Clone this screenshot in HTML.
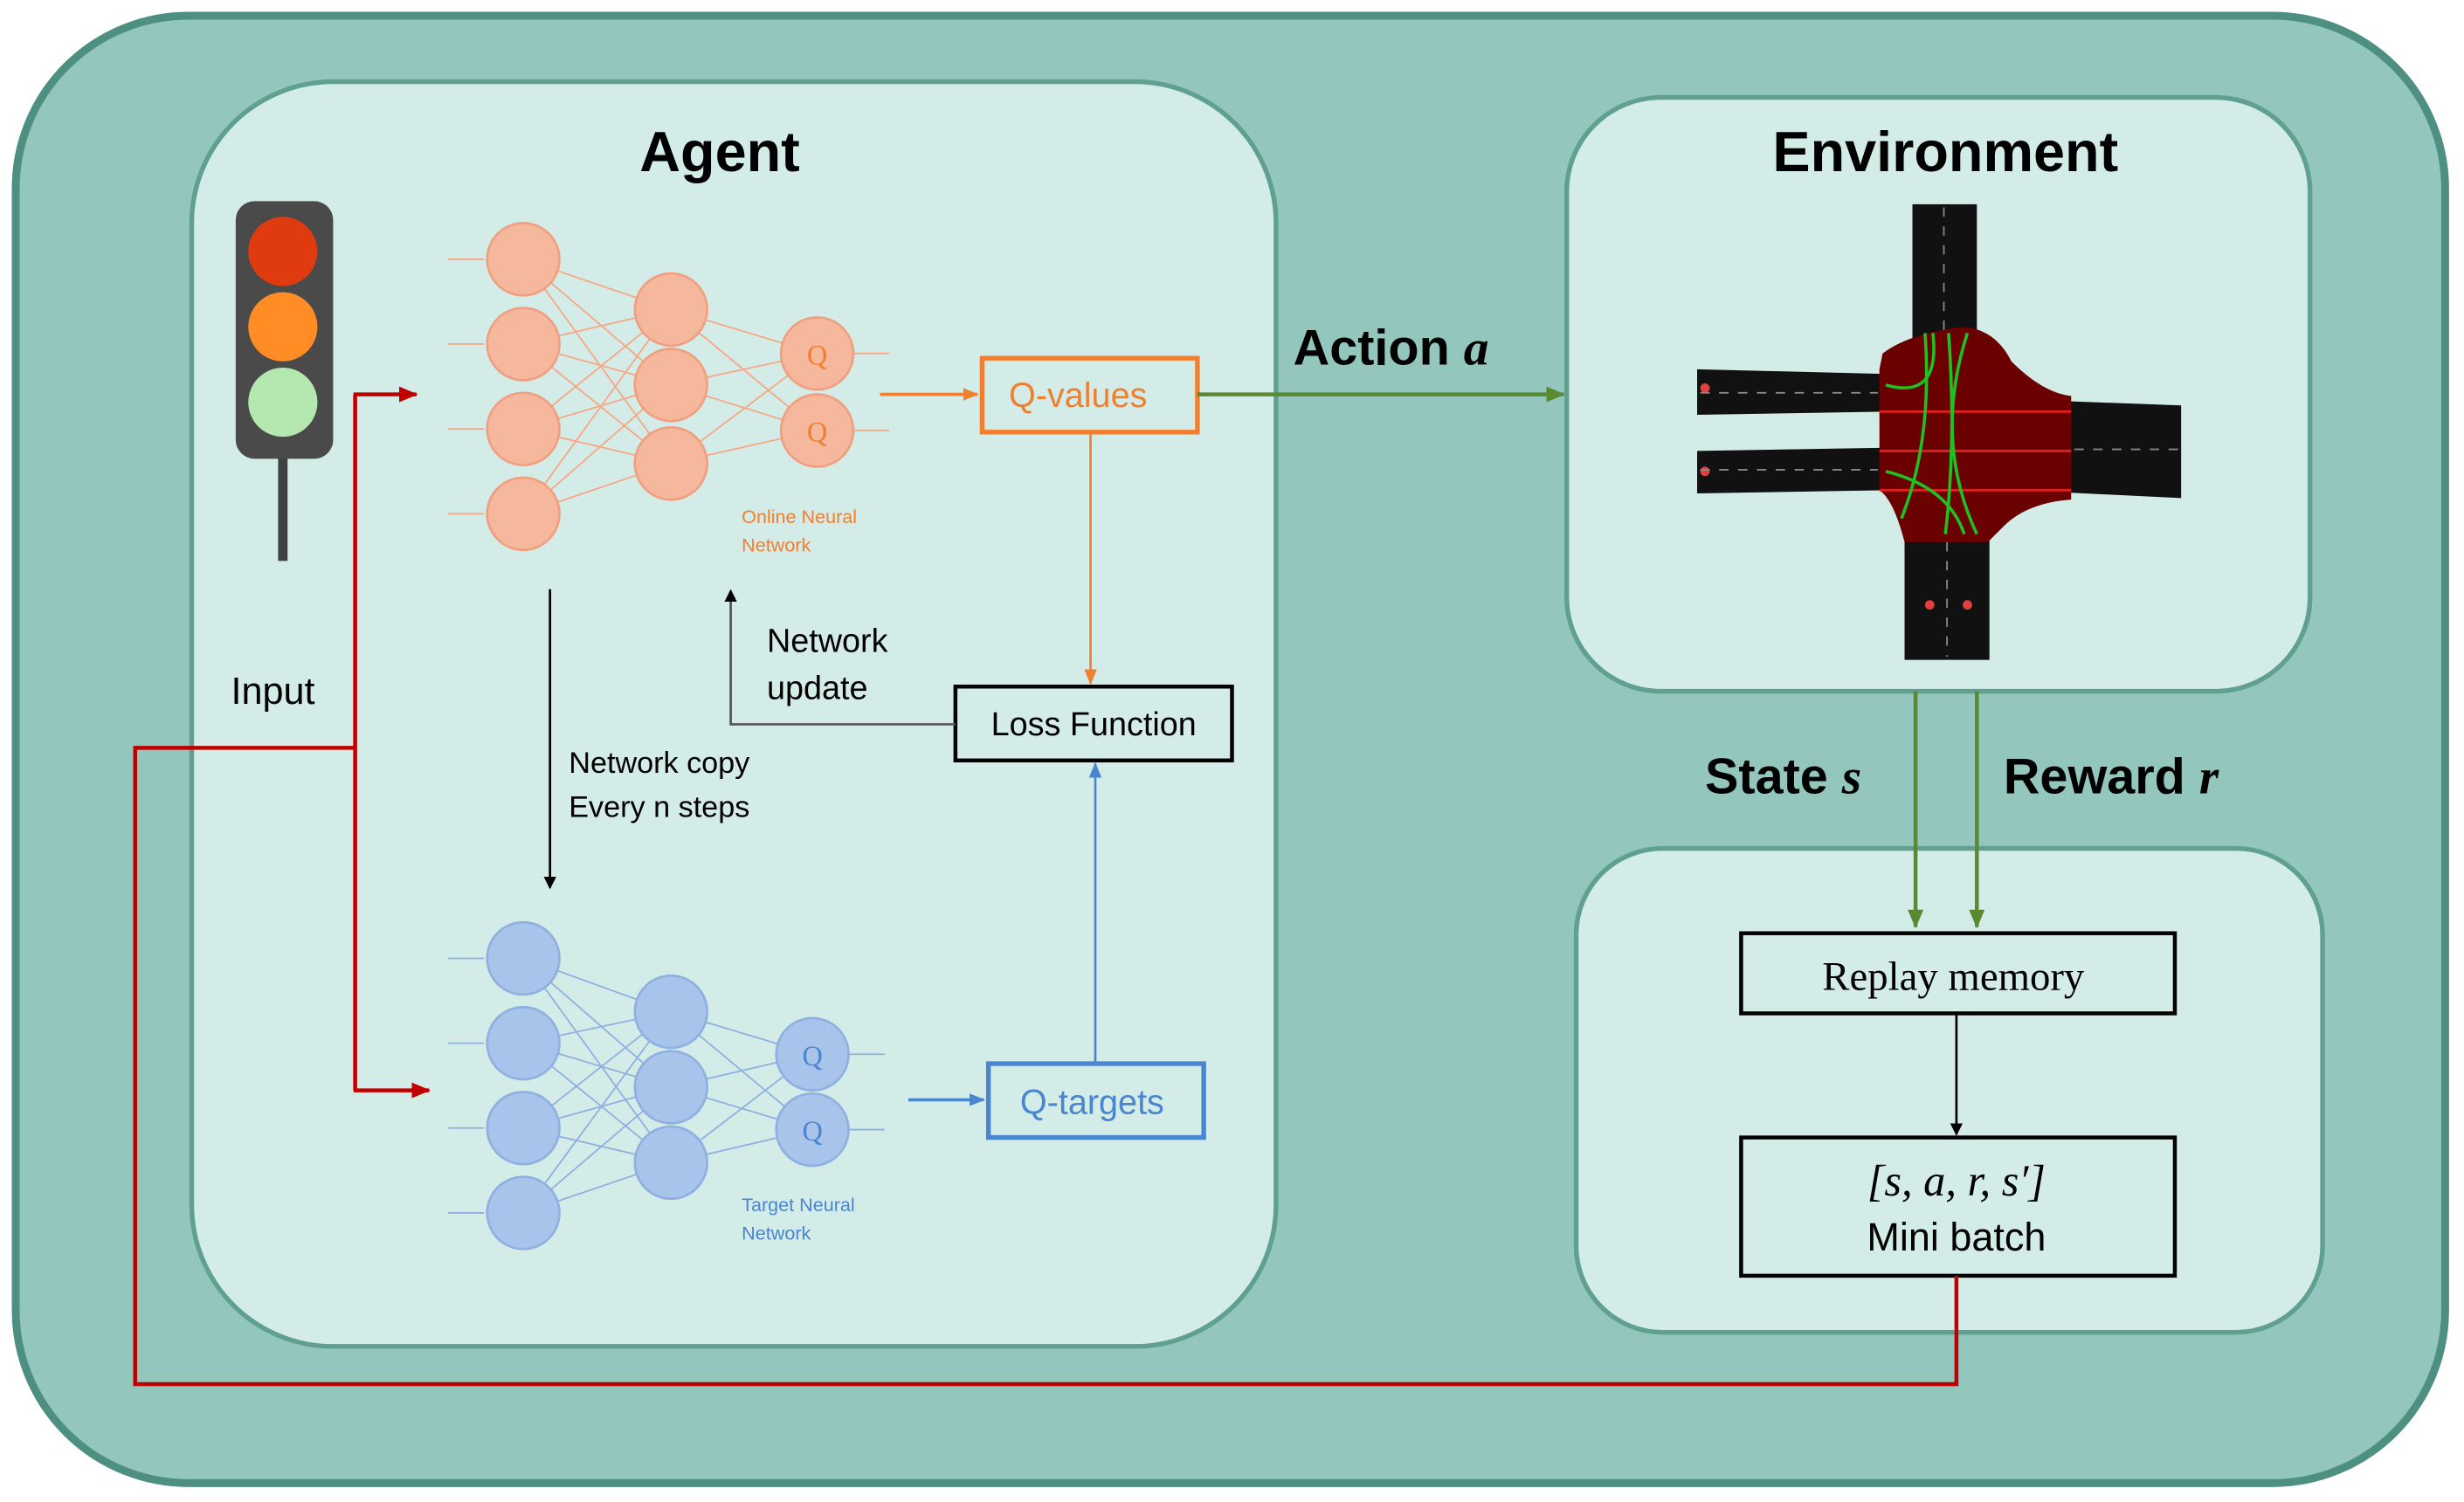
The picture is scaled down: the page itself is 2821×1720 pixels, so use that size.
<!DOCTYPE html>
<html><head><meta charset="utf-8"><style>html,body{margin:0;padding:0;background:#fff}svg{display:block}</style></head>
<body>
<svg width="2821" height="1720" viewBox="0 0 1568 956" xmlns="http://www.w3.org/2000/svg" font-family="Liberation Sans, sans-serif">
<defs>
<marker id="ak" markerWidth="8" markerHeight="8" refX="7" refY="4" orient="auto" markerUnits="userSpaceOnUse"><path d="M0,0 L8,4 L0,8 z" fill="#000"/></marker>
<marker id="ar" markerWidth="12" markerHeight="10" refX="11" refY="5" orient="auto" markerUnits="userSpaceOnUse"><path d="M0,0 L12,5 L0,10 z" fill="#c00000"/></marker>
<marker id="ag" markerWidth="12" markerHeight="10" refX="11" refY="5" orient="auto" markerUnits="userSpaceOnUse"><path d="M0,0 L12,5 L0,10 z" fill="#5a8a30"/></marker>
<marker id="ao" markerWidth="10" markerHeight="8" refX="9" refY="4" orient="auto" markerUnits="userSpaceOnUse"><path d="M0,0 L10,4 L0,8 z" fill="#f08030"/></marker>
<marker id="ab" markerWidth="10" markerHeight="8" refX="9" refY="4" orient="auto" markerUnits="userSpaceOnUse"><path d="M0,0 L10,4 L0,8 z" fill="#4a86d0"/></marker>
</defs>
<rect x="10" y="10" width="1546" height="934" rx="110" fill="#93c6bc" stroke="#4d8f80" stroke-width="5"/>
<rect x="122" y="52" width="690" height="805" rx="90" fill="#d4ece7" stroke="#5fa091" stroke-width="3"/>
<rect x="997" y="62" width="473" height="378" rx="60" fill="#d4ece7" stroke="#5fa091" stroke-width="3"/>
<rect x="1003" y="540" width="475" height="308" rx="55" fill="#d4ece7" stroke="#5fa091" stroke-width="3"/>
<!-- traffic light -->
<rect x="177" y="290" width="6" height="67" fill="#404040"/>
<rect x="150" y="128" width="62" height="164" rx="12" fill="#4a4a4a"/>
<circle cx="180" cy="160" r="22" fill="#e03a10"/>
<circle cx="180" cy="208" r="22" fill="#ff8c25"/>
<circle cx="180" cy="256" r="22" fill="#b5e8b0"/>
<text x="458" y="109" font-size="36" font-weight="bold" text-anchor="middle">Agent</text>
<text x="1238" y="109" font-size="36" font-weight="bold" text-anchor="middle">Environment</text>
<!-- orange net -->
<g stroke="#f5a886" stroke-width="1">
<g id="on">
<line x1="333" y1="165" x2="427" y2="197"/><line x1="333" y1="165" x2="427" y2="245"/><line x1="333" y1="165" x2="427" y2="295"/>
<line x1="333" y1="219" x2="427" y2="197"/><line x1="333" y1="219" x2="427" y2="245"/><line x1="333" y1="219" x2="427" y2="295"/>
<line x1="333" y1="273" x2="427" y2="197"/><line x1="333" y1="273" x2="427" y2="245"/><line x1="333" y1="273" x2="427" y2="295"/>
<line x1="333" y1="327" x2="427" y2="197"/><line x1="333" y1="327" x2="427" y2="245"/><line x1="333" y1="327" x2="427" y2="295"/>
<line x1="427" y1="197" x2="520" y2="225"/><line x1="427" y1="197" x2="520" y2="274"/>
<line x1="427" y1="245" x2="520" y2="225"/><line x1="427" y1="245" x2="520" y2="274"/>
<line x1="427" y1="295" x2="520" y2="225"/><line x1="427" y1="295" x2="520" y2="274"/>
<line x1="285" y1="165" x2="308" y2="165"/><line x1="285" y1="219" x2="308" y2="219"/><line x1="285" y1="273" x2="308" y2="273"/><line x1="285" y1="327" x2="308" y2="327"/>
<line x1="543" y1="225" x2="566" y2="225"/><line x1="543" y1="274" x2="566" y2="274"/>
</g></g>
<g fill="#f5b89c" stroke="#f0a080" stroke-width="1.5">
<circle cx="333" cy="165" r="23"/><circle cx="333" cy="219" r="23"/><circle cx="333" cy="273" r="23"/><circle cx="333" cy="327" r="23"/>
<circle cx="427" cy="197" r="23"/><circle cx="427" cy="245" r="23"/><circle cx="427" cy="295" r="23"/>
<circle cx="520" cy="225" r="23"/><circle cx="520" cy="274" r="23"/></g>
<text x="520" y="232" font-size="18" fill="#f08030" text-anchor="middle" font-family="Liberation Serif, serif">Q</text>
<text x="520" y="281" font-size="18" fill="#f08030" text-anchor="middle" font-family="Liberation Serif, serif">Q</text>
<text x="472" y="333" font-size="12" fill="#f08030">Online Neural</text>
<text x="472" y="351" font-size="12" fill="#f08030">Network</text>
<!-- blue net -->
<g stroke="#8fb0e0" stroke-width="1" transform="translate(0,445)">
<line x1="333" y1="165" x2="427" y2="199"/><line x1="333" y1="165" x2="427" y2="247"/><line x1="333" y1="165" x2="427" y2="295"/>
<line x1="333" y1="219" x2="427" y2="199"/><line x1="333" y1="219" x2="427" y2="247"/><line x1="333" y1="219" x2="427" y2="295"/>
<line x1="333" y1="273" x2="427" y2="199"/><line x1="333" y1="273" x2="427" y2="247"/><line x1="333" y1="273" x2="427" y2="295"/>
<line x1="333" y1="327" x2="427" y2="199"/><line x1="333" y1="327" x2="427" y2="247"/><line x1="333" y1="327" x2="427" y2="295"/>
<line x1="427" y1="199" x2="517" y2="226"/><line x1="427" y1="199" x2="517" y2="274"/>
<line x1="427" y1="247" x2="517" y2="226"/><line x1="427" y1="247" x2="517" y2="274"/>
<line x1="427" y1="295" x2="517" y2="226"/><line x1="427" y1="295" x2="517" y2="274"/>
<line x1="285" y1="165" x2="308" y2="165"/><line x1="285" y1="219" x2="308" y2="219"/><line x1="285" y1="273" x2="308" y2="273"/><line x1="285" y1="327" x2="308" y2="327"/>
<line x1="540" y1="226" x2="563" y2="226"/><line x1="540" y1="274" x2="563" y2="274"/>
</g>
<g fill="#a8c4ea" stroke="#8fb0e0" stroke-width="1.5" transform="translate(0,445)">
<circle cx="333" cy="165" r="23"/><circle cx="333" cy="219" r="23"/><circle cx="333" cy="273" r="23"/><circle cx="333" cy="327" r="23"/>
<circle cx="427" cy="199" r="23"/><circle cx="427" cy="247" r="23"/><circle cx="427" cy="295" r="23"/>
<circle cx="517" cy="226" r="23"/><circle cx="517" cy="274" r="23"/></g>
<text x="517" y="678" font-size="18" fill="#4a86d0" text-anchor="middle" font-family="Liberation Serif, serif">Q</text>
<text x="517" y="726" font-size="18" fill="#4a86d0" text-anchor="middle" font-family="Liberation Serif, serif">Q</text>
<text x="472" y="771" font-size="12" fill="#4a86d0">Target Neural</text>
<text x="472" y="789" font-size="12" fill="#4a86d0">Network</text>
<!-- boxes -->
<line x1="560" y1="251" x2="622" y2="251" stroke="#f08030" stroke-width="2" marker-end="url(#ao)"/>
<rect x="625" y="228" width="137" height="47" fill="none" stroke="#f08030" stroke-width="3"/>
<text x="686" y="259" font-size="22" fill="#f08030" text-anchor="middle">Q-values</text>
<line x1="578" y1="700" x2="626" y2="700" stroke="#4a86d0" stroke-width="2" marker-end="url(#ab)"/>
<rect x="629" y="677" width="137" height="47" fill="none" stroke="#4a86d0" stroke-width="3"/>
<text x="695" y="709" font-size="22" fill="#4a86d0" text-anchor="middle">Q-targets</text>
<rect x="608" y="437" width="176" height="47" fill="none" stroke="#000" stroke-width="2.5"/>
<text x="696" y="468" font-size="21" text-anchor="middle">Loss Function</text>
<line x1="694" y1="275" x2="694" y2="435" stroke="#f08030" stroke-width="1.5" marker-end="url(#ao)"/>
<line x1="697" y1="677" x2="697" y2="486" stroke="#4a86d0" stroke-width="1.5" marker-end="url(#ab)"/>
<polyline points="608,461 465,461 465,376" fill="none" stroke="#555" stroke-width="1.5" marker-end="url(#ak)"/>
<text x="488" y="415" font-size="21">Network</text>
<text x="488" y="445" font-size="21">update</text>
<line x1="350" y1="375" x2="350" y2="565" stroke="#000" stroke-width="1.5" marker-end="url(#ak)"/>
<text x="362" y="492" font-size="19">Network copy</text>
<text x="362" y="520" font-size="19">Every n steps</text>
<text x="147" y="448" font-size="24">Input</text>
<!-- action -->
<line x1="762" y1="251" x2="995" y2="251" stroke="#5a8a30" stroke-width="2.5" marker-end="url(#ag)"/>
<text x="823" y="232" font-size="32" font-weight="bold">Action <tspan font-family="Liberation Serif, serif" font-style="italic">a</tspan></text>
<!-- intersection -->
<g>
<rect x="1217" y="130" width="41" height="90" fill="#111"/>
<rect x="1212" y="330" width="54" height="90" fill="#111"/>
<polygon points="1080,235 1200,238 1200,262 1080,264" fill="#111"/>
<polygon points="1080,287 1200,285 1200,312 1080,314" fill="#111"/>
<polygon points="1305,255 1388,258 1388,317 1305,313" fill="#111"/>
<path d="M1198,225 Q1215,212 1250,208 Q1270,210 1280,230 Q1300,250 1318,252 L1318,318 Q1290,320 1275,335 L1265,345 L1212,345 Q1205,318 1196,312 L1196,235 z" fill="#6a0000"/>
<g stroke="#e02020" stroke-width="1.5" fill="none"><line x1="1196" y1="262" x2="1318" y2="262"/><line x1="1196" y1="287" x2="1318" y2="287"/><line x1="1196" y1="312" x2="1318" y2="312"/></g>
<g stroke="#20c020" stroke-width="2" fill="none"><path d="M1225,212 Q1230,280 1210,330"/><path d="M1240,212 Q1245,280 1238,340"/><path d="M1252,212 Q1230,280 1258,340"/><path d="M1200,245 Q1235,255 1230,212"/><path d="M1200,300 Q1240,310 1250,340"/></g>
<g fill="#e04040"><circle cx="1085" cy="247" r="3"/><circle cx="1085" cy="300" r="3"/><circle cx="1228" cy="385" r="3"/><circle cx="1252" cy="385" r="3"/></g>
<g stroke="#888" stroke-width="1" stroke-dasharray="6,6"><line x1="1237" y1="132" x2="1237" y2="210"/><line x1="1239" y1="345" x2="1239" y2="418"/><line x1="1082" y1="250" x2="1195" y2="250"/><line x1="1082" y1="299" x2="1195" y2="299"/><line x1="1320" y1="286" x2="1386" y2="286"/></g>
</g>
<!-- state reward -->
<line x1="1219" y1="440" x2="1219" y2="590" stroke="#5a8a30" stroke-width="2.5" marker-end="url(#ag)"/>
<line x1="1258" y1="440" x2="1258" y2="590" stroke="#5a8a30" stroke-width="2.5" marker-end="url(#ag)"/>
<text x="1085" y="505" font-size="32" font-weight="bold">State <tspan font-family="Liberation Serif, serif" font-style="italic">s</tspan></text>
<text x="1275" y="505" font-size="32" font-weight="bold">Reward <tspan font-family="Liberation Serif, serif" font-style="italic">r</tspan></text>
<rect x="1108" y="594" width="276" height="51" fill="none" stroke="#000" stroke-width="2.5"/>
<text x="1243" y="630" font-size="26" text-anchor="middle" font-family="Liberation Serif, serif">Replay memory</text>
<line x1="1245" y1="645" x2="1245" y2="722" stroke="#000" stroke-width="1.5" marker-end="url(#ak)"/>
<rect x="1108" y="724" width="276" height="88" fill="none" stroke="#000" stroke-width="2.5"/>
<text x="1245" y="761" font-size="28" text-anchor="middle" font-family="Liberation Serif, serif" font-style="italic">[s, a, r, s′]</text>
<text x="1245" y="796" font-size="25" text-anchor="middle">Mini batch</text>
<!-- red loop -->
<polyline points="1245,812 1245,881 86,881 86,476 226,476" fill="none" stroke="#c00000" stroke-width="2.5"/>
<line x1="226" y1="251" x2="226" y2="694" stroke="#c00000" stroke-width="2.5"/>
<line x1="225" y1="251" x2="265" y2="251" stroke="#c00000" stroke-width="2.5" marker-end="url(#ar)"/>
<line x1="225" y1="694" x2="273" y2="694" stroke="#c00000" stroke-width="2.5" marker-end="url(#ar)"/>
</svg>
</body></html>
